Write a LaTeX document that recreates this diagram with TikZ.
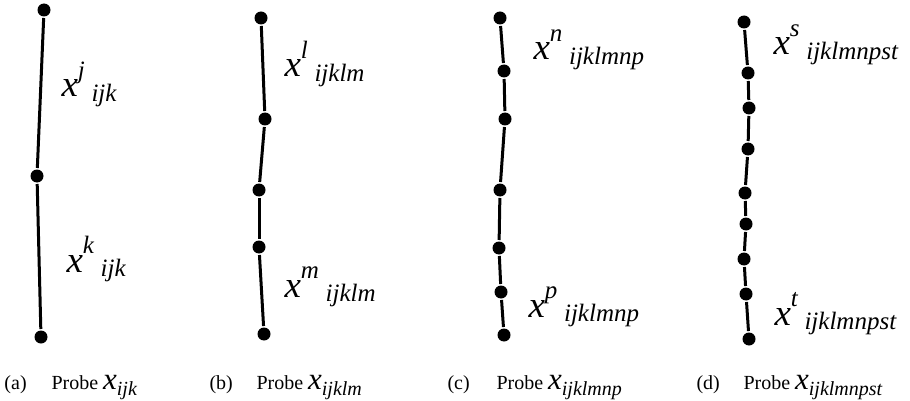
\documentclass[tikz,border=0pt]{standalone}
\usepackage{fontspec}
\setmainfont{Liberation Serif}
\usepackage{tikz}
\usetikzlibrary{positioning}

% probe labels: x^{sup}_{sub}, and the small x in the captions
\newcommand{\xlab}[2]{\itshape x\raisebox{0.5em}{\fontsize{25}{25}\selectfont #1}%
    \hspace{0.18em}\raisebox{-0.12em}{\fontsize{25}{25}\selectfont #2}}
\newcommand{\capx}[1]{{\fontsize{31}{31}\selectfont\itshape x}%
    \raisebox{-0.3em}{\fontsize{20}{20}\selectfont\itshape #1}}

\begin{document}
\begin{tikzpicture}[
    x=1pt, y=-1pt,
    line width=3pt,
    dot/.style={circle, fill=black, inner sep=0pt, minimum size=13pt},
    lbl/.style={anchor=base west, inner sep=0pt, font=\fontsize{37}{40}\selectfont},
    tag/.style={anchor=base west, inner sep=0pt, font=\fontsize{20}{24}\selectfont},
]
\useasboundingbox (0,0) rectangle (910,401);

%------------------------------------------------------------
% (a) probe x_ijk : 3 points
%------------------------------------------------------------
\foreach \n/\x/\y in {0/44/10, 1/37/176, 2/41/337}{
    \node[dot] (a\n) at (\x,\y) {};
}
\foreach \n [evaluate=\n as \m using int(\n+1)] in {0,1}{
    \draw (a\n) -- (a\m);
}
\node[lbl] (aj) at (60,97)  {\xlab{j}{ijk}};
\node[lbl] (ak) at (65,272) {\xlab{k}{ijk}};

%------------------------------------------------------------
% (b) probe x_ijklm : 5 points
%------------------------------------------------------------
\foreach \n/\x/\y in {0/261/18, 1/265/119, 2/259/190, 3/259/247, 4/264/334}{
    \node[dot] (b\n) at (\x,\y) {};
}
\foreach \n [evaluate=\n as \m using int(\n+1)] in {0,...,3}{
    \draw (b\n) -- (b\m);
}
\node[lbl] (bl) at (283,77)  {\xlab{l}{ijklm}};
\node[lbl] (bm) at (283,297) {\xlab{m}{ijklm}};

%------------------------------------------------------------
% (c) probe x_ijklmnp : 7 points
%------------------------------------------------------------
\foreach \n/\x/\y in {0/500/18, 1/504/71, 2/505/119, 3/500/190, 4/499/248, 5/501/292, 6/504/335}{
    \node[dot] (c\n) at (\x,\y) {};
}
\foreach \n [evaluate=\n as \m using int(\n+1)] in {0,...,5}{
    \draw (c\n) -- (c\m);
}
\node[lbl] (cn) at (532,60)  {\xlab{n}{ijklmnp}};
\node[lbl] (cp) at (527,317) {\xlab{p}{ijklmnp}};

%------------------------------------------------------------
% (d) probe x_ijklmnpst : 9 points
%------------------------------------------------------------
\foreach \n/\x/\y in {0/744/22, 1/748/73, 2/749/108, 3/748/149, 4/745/193,
                      5/746/224, 6/744/259, 7/746/294, 8/749/339}{
    \node[dot] (d\n) at (\x,\y) {};
}
\foreach \n [evaluate=\n as \m using int(\n+1)] in {0,...,7}{
    \draw (d\n) -- (d\m);
}
\node[lbl] (ds) at (772,55)  {\xlab{s}{ijklmnpst}};
\node[lbl] (dt) at (773,325) {\xlab{t}{ijklmnpst}};

%------------------------------------------------------------
% captions
%------------------------------------------------------------
\foreach \p/\tx/\px/\sub in {a/3/50/ijk, b/208/255/ijklm, c/446/495/ijklmnp, d/695/742/ijklmnpst}{
    \node[tag] (tag\p) at (\tx,389) {(\p)};
    \node[tag] (cap\p) at (\px,389) {Probe \capx{\sub}};
}

\end{tikzpicture}
\end{document}
